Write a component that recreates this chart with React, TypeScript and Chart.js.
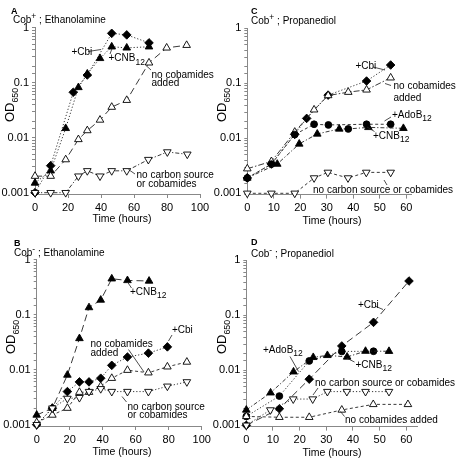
import React, { useEffect, useRef } from 'react';
import { Chart, registerables } from 'chart.js';
Chart.register(...registerables);

const FONT = '"Liberation Sans", Arial, Helvetica, sans-serif';

// ---------- Panel A : Cob+ ; Ethanolamine ----------
const A_cbi_t = [0, 9.5, 23.2, 31.7, 46.5, 55.6, 69.1];
const A_cbi_od = [0.001, 0.0031, 0.067, 0.138, 0.79, 0.74, 0.53];
const A_cnb_t = [0, 9.5, 18.6, 26.3, 31.7, 39.4, 46.5, 55.6, 69.1];
const A_cnb_od = [0.0015, 0.0025, 0.0148, 0.082, 0.145, 0.277, 0.45, 0.43, 0.45];
const A_nocob_t = [0, 9.5, 18.6, 26.3, 31.7, 39.4, 46.5, 55.6, 69.1, 79.8, 91.9];
const A_nocob_od = [0.002, 0.002, 0.004, 0.0093, 0.0135, 0.021, 0.036, 0.048, 0.23, 0.43, 0.48];
const A_nocarb_t = [0, 9.5, 18.6, 26.3, 31.7, 39.4, 46.5, 55.6, 68.7, 80.2, 92.3];
const A_nocarb_od = [0.001, 0.001, 0.001, 0.002, 0.0025, 0.002, 0.0025, 0.0025, 0.004, 0.0055, 0.005];

// ---------- Panel B : Cob- ; Ethanolamine ----------
const B_cnb_t = [0, 9.5, 18.6, 25.9, 31.7, 38.8, 45.5, 55, 68.1];
const B_cnb_od = [0.0015, 0.002, 0.008, 0.037, 0.135, 0.185, 0.45, 0.42, 0.41];
const B_cbi_t = [0, 9.5, 18.6, 25.9, 31.7, 38.8, 45.5, 55, 67.7, 79.2];
const B_cbi_od = [0.001, 0.002, 0.004, 0.006, 0.006, 0.007, 0.012, 0.017, 0.02, 0.026];
const B_nocob_t = [0, 9.5, 18.6, 25.9, 31.7, 38.8, 45.5, 55, 67.7, 79.2, 91];
const B_nocob_od = [0.0011, 0.0015, 0.002, 0.0039, 0.0039, 0.005, 0.007, 0.0098, 0.0088, 0.0113, 0.0138];
const B_nocarb_t = [0, 9.5, 18.6, 25.9, 31.7, 38.8, 45.5, 55, 67.7, 79.2, 91];
const B_nocarb_od = [0.001, 0.002, 0.003, 0.0031, 0.004, 0.0045, 0.004, 0.004, 0.004, 0.005, 0.006];

// ---------- Panel C : Cob+ ; Propanediol ----------
const C_cbi_t = [0, 9.1, 17.9, 22.4, 30.5, 45, 54.1];
const C_cbi_od = [0.0019, 0.0034, 0.0118, 0.023, 0.061, 0.11, 0.215];
const C_nocob_t = [0, 9.1, 17.9, 25.2, 30.5, 38.1, 45, 54.1];
const C_nocob_od = [0.0028, 0.0038, 0.013, 0.033, 0.06, 0.069, 0.076, 0.126];
const C_ado_t = [0, 9.1, 17.9, 25.2, 30.6, 45, 54.1];
const C_ado_od = [0.0019, 0.0034, 0.0117, 0.018, 0.0175, 0.018, 0.018];
const C_cnb_t = [0, 11.3, 19.6, 26.4, 34.7, 38.1, 45.7, 58.9];
const C_cnb_od = [0.0019, 0.0034, 0.0079, 0.012, 0.0148, 0.0148, 0.0158, 0.0152];
const C_nocarb_t = [0, 9.1, 17.9, 25.2, 30.4, 38, 44.9, 54.1];
const C_nocarb_od = [0.001, 0.001, 0.001, 0.0019, 0.0024, 0.0019, 0.0024, 0.0024];

// ---------- Panel D : Cob- ; Propanediol ----------
const D_cbi_t = [0, 12.4, 23.6, 35.8, 47.7, 61];
const D_cbi_od = [0.001, 0.002, 0.0069, 0.0277, 0.0745, 0.42];
const D_ado_t = [0, 12.4, 23.6, 35.8, 47.7];
const D_ado_od = [0.00145, 0.0034, 0.0148, 0.022, 0.0222];
const D_cnb_t = [0, 9.1, 17.7, 25.1, 30.4, 37.8, 44.7, 53.5];
const D_cnb_od = [0.0019, 0.0039, 0.0094, 0.0172, 0.0187, 0.0175, 0.0223, 0.0222];
const D_nocarb_t = [0, 9, 17.6, 24.9, 30.4, 37.7, 44.7, 53.5];
const D_nocarb_od = [0.001, 0.0019, 0.003, 0.003, 0.0041, 0.0041, 0.0041, 0.0041];
const D_nocob_t = [0, 12.4, 23.6, 35.8, 47.6, 60.6];
const D_nocob_od = [0.00145, 0.0014, 0.0014, 0.0019, 0.0024, 0.0024];

const Y_TICKS = [0.001, 0.01, 0.1, 1];

type Marker = 'diamond' | 'triUp' | 'triDown' | 'circle';
type Series = { t: number[]; od: number[]; marker: Marker; open?: boolean; dash: number[]; styles?: (Marker | null)[] };
type Txt = { x: number; y: number; text: string; size?: number; bold?: boolean };
type Panel = {
  left: number; top: number; width: number; height: number;
  area: { l: number; t: number; r: number; b: number };
  xMax: number; xStep: number; yMin: number;
  series: Series[];
  texts: Txt[]; lines: number[][];
  yTitle: [number, number]; xTitle: [number, number];
};

const DOT = [1.2, 2];
const DASHDOT = [4, 2, 1.2, 2];
const LONG = [7, 4];
const SHORT = [3, 2.5];

const panels: Panel[] = [
  {
    left: 0, top: 0, width: 228, height: 232,
    area: { l: 35, t: 27.7, r: 200, b: 194 }, xMax: 100, xStep: 20, yMin: 0.000947,
    series: [
      { t: A_nocarb_t, od: A_nocarb_od, marker: 'triDown', open: true, dash: DASHDOT },
      { t: A_nocob_t, od: A_nocob_od, marker: 'triUp', open: true, dash: LONG },
      { t: A_cnb_t, od: A_cnb_od, marker: 'triUp', dash: DOT },
      { t: A_cbi_t, od: A_cbi_od, marker: 'diamond', dash: DOT },
    ],
    texts: [
      { x: 11, y: 12, text: 'A', size: 9, bold: true },
      { x: 13, y: 20.5, text: 'Cob^{+} ; Ethanolamine' },
      { x: 71.5, y: 52, text: '+Cbi' },
      { x: 108.5, y: 58.5, text: '+CNB_{12}' },
      { x: 151.5, y: 75, text: 'no cobamides' },
      { x: 151.5, y: 83.5, text: 'added' },
      { x: 136.5, y: 175.5, text: 'no carbon source' },
      { x: 136.5, y: 184, text: 'or cobamides' },
    ],
    lines: [[88, 51.5, 101, 49.5], [110, 54, 112, 48.5], [151, 70, 146, 65.5], [135, 174, 128.5, 169.5]],
    yTitle: [10, 105], xTitle: [122, 219.5],
  },
  {
    left: 200, top: 0, width: 256, height: 232,
    area: { l: 47.3, t: 28.3, r: 211.6, b: 194.6 }, xMax: 62, xStep: 10, yMin: 0.000947,
    series: [
      { t: C_nocarb_t, od: C_nocarb_od, marker: 'triDown', open: true, dash: SHORT },
      { t: C_cnb_t, od: C_cnb_od, marker: 'triUp', dash: DASHDOT, styles: [null, null, null, null, null, 'circle', null, null] },
      { t: C_ado_t, od: C_ado_od, marker: 'circle', dash: SHORT },
      { t: C_nocob_t, od: C_nocob_od, marker: 'triUp', open: true, dash: [6, 2, 1.5, 2] },
      { t: C_cbi_t, od: C_cbi_od, marker: 'diamond', dash: DOT },
    ],
    texts: [
      { x: 251, y: 12, text: 'C', size: 9, bold: true },
      { x: 251, y: 21.5, text: 'Cob^{+} ; Propanediol' },
      { x: 355.5, y: 66.5, text: '+Cbi' },
      { x: 393.5, y: 86, text: 'no cobamides' },
      { x: 393.5, y: 98, text: 'added' },
      { x: 392, y: 115, text: '+AdoB_{12}' },
      { x: 373, y: 136, text: '+CNB_{12}' },
      { x: 313, y: 190, text: 'no carbon source or cobamides' },
    ],
    lines: [[373, 67, 385, 70], [391, 85.5, 385, 83.5], [391, 117, 384.5, 121], [374.5, 131.5, 367, 127], [387, 185, 384, 180]],
    yTitle: [222, 105], xTitle: [332, 221],
  },
  {
    left: 0, top: 232, width: 228, height: 232,
    area: { l: 36.7, t: 27.7, r: 201.7, b: 194 }, xMax: 100, xStep: 20, yMin: 0.000947,
    series: [
      { t: B_nocarb_t, od: B_nocarb_od, marker: 'triDown', open: true, dash: DOT },
      { t: B_nocob_t, od: B_nocob_od, marker: 'triUp', open: true, dash: SHORT },
      { t: B_cbi_t, od: B_cbi_od, marker: 'diamond', dash: DOT },
      { t: B_cnb_t, od: B_cnb_od, marker: 'triUp', dash: LONG },
    ],
    texts: [
      { x: 14, y: 243.5, text: 'B', size: 9, bold: true },
      { x: 14, y: 253.5, text: 'Cob^{-} ; Ethanolamine' },
      { x: 130, y: 292, text: '+CNB_{12}' },
      { x: 172, y: 330, text: '+Cbi' },
      { x: 90.5, y: 344.5, text: 'no cobamides' },
      { x: 90.5, y: 353.5, text: 'added' },
      { x: 127.5, y: 407, text: 'no carbon source' },
      { x: 127.5, y: 415.5, text: 'or cobamides' },
    ],
    lines: [[131.5, 288, 127.5, 282], [172, 335, 168.5, 341], [128.5, 349.5, 144, 372], [126.5, 402, 122, 396.5]],
    yTitle: [11, 337], xTitle: [122, 452],
  },
  {
    left: 200, top: 232, width: 256, height: 232,
    area: { l: 46.3, t: 28.3, r: 217, b: 194.6 }, xMax: 64, xStep: 10, yMin: 0.000947,
    series: [
      { t: D_nocob_t, od: D_nocob_od, marker: 'triUp', open: true, dash: SHORT },
      { t: D_nocarb_t, od: D_nocarb_od, marker: 'triDown', open: true, dash: DOT },
      { t: D_cnb_t, od: D_cnb_od, marker: 'triUp', dash: DASHDOT },
      { t: D_ado_t, od: D_ado_od, marker: 'circle', dash: DOT },
      { t: D_cbi_t, od: D_cbi_od, marker: 'diamond', dash: LONG },
    ],
    texts: [
      { x: 251, y: 242.5, text: 'D', size: 9, bold: true },
      { x: 251, y: 254.5, text: 'Cob^{-} ; Propanediol' },
      { x: 358, y: 305, text: '+Cbi' },
      { x: 263, y: 350, text: '+AdoB_{12}' },
      { x: 355.5, y: 365, text: '+CNB_{12}' },
      { x: 315, y: 383.5, text: 'no carbon source or cobamides' },
      { x: 345, y: 420, text: 'no cobamides added' },
    ],
    lines: [[375, 306, 383, 309.5], [290, 356.5, 298.5, 371.5], [354.5, 362, 346.5, 358], [318, 388, 313, 395], [344.5, 416.5, 340.5, 411.5]],
    yTitle: [222, 337], xTitle: [332, 453],
  },
];

type Seg = { t: string; mode: 'n' | 'sub' | 'sup' };
function parse(s: string): Seg[] {
  const out: Seg[] = [];
  const re = /([_^])\{([^}]*)\}/g;
  let last = 0;
  let m: RegExpExecArray | null;
  while ((m = re.exec(s))) {
    if (m.index > last) out.push({ t: s.slice(last, m.index), mode: 'n' });
    out.push({ t: m[2], mode: m[1] === '_' ? 'sub' : 'sup' });
    last = re.lastIndex;
  }
  if (last < s.length) out.push({ t: s.slice(last), mode: 'n' });
  return out;
}

function drawRich(ctx: CanvasRenderingContext2D, s: string, x: number, y: number, size: number, bold: boolean, center: boolean, subScale = 0.85) {
  const segs = parse(s);
  const fontFor = (mode: string) => `${bold ? 'bold ' : ''}${mode === 'n' ? size : size * subScale}px ${FONT}`;
  let total = 0;
  for (const sg of segs) { ctx.font = fontFor(sg.mode); total += ctx.measureText(sg.t).width; }
  let cx = center ? x - total / 2 : x;
  ctx.textBaseline = 'middle';
  ctx.textAlign = 'left';
  ctx.fillStyle = '#000';
  for (const sg of segs) {
    ctx.font = fontFor(sg.mode);
    const dy = sg.mode === 'sub' ? size * 0.4 : sg.mode === 'sup' ? -size * 0.35 : 0;
    ctx.fillText(sg.t, cx, y + dy);
    cx += ctx.measureText(sg.t).width;
  }
}

function pointStyleOf(m: Marker) {
  return m === 'diamond' ? 'rectRot' : m === 'circle' ? 'circle' : 'triangle';
}
function radiusOf(m: Marker) {
  return m === 'diamond' ? 4.3 : m === 'circle' ? 3.4 : 4.4;
}

function fmt(v: number) {
  const l = Math.log10(v);
  if (Math.abs(l - Math.round(l)) > 1e-6) return '';
  const r = Math.pow(10, Math.round(l));
  return Y_TICKS.includes(r) ? String(r) : '';
}

function PanelChart({ p }: { p: Panel }) {
  const ref = useRef<HTMLCanvasElement>(null);
  useEffect(() => {
    if (!ref.current) return;
    const datasets = p.series.map((s) => {
      const styles = s.t.map((_, i) => pointStyleOf((s.styles && s.styles[i]) || s.marker));
      const radii = s.t.map((_, i) => radiusOf((s.styles && s.styles[i]) || s.marker));
      return {
        data: s.t.map((x, i) => ({ x, y: s.od[i] })),
        showLine: true,
        borderColor: '#222',
        borderWidth: 0.9,
        borderDash: s.dash,
        pointStyle: styles,
        pointRadius: radii,
        pointRotation: s.marker === 'triDown' ? 180 : 0,
        pointBackgroundColor: s.open ? '#fff' : '#000',
        pointBorderColor: '#000',
        pointBorderWidth: 0.9,
        clip: false as any,
      };
    });
    const decor = {
      id: 'decor',
      afterDraw(chart: any) {
        const ctx: CanvasRenderingContext2D = chart.ctx;
        ctx.save();
        ctx.translate(-p.left, -p.top);
        ctx.strokeStyle = '#222';
        ctx.lineWidth = 0.8;
        ctx.setLineDash([]);
        for (const l of p.lines) {
          ctx.beginPath(); ctx.moveTo(l[0], l[1]); ctx.lineTo(l[2], l[3]); ctx.stroke();
        }
        for (const t of p.texts) drawRich(ctx, t.text, t.x, t.y, t.size || 10, !!t.bold, false);
        drawRich(ctx, 'Time (hours)', p.xTitle[0], p.xTitle[1], 10.5, false, true);
        ctx.save();
        ctx.translate(p.yTitle[0], p.yTitle[1]);
        ctx.rotate(-Math.PI / 2);
        drawRich(ctx, 'OD_{650}', 0, 0, 13, false, true, 0.68);
        ctx.restore();
        ctx.restore();
      },
    };
    const a = p.area;
    const chart = new Chart(ref.current, {
      type: 'scatter',
      data: { datasets: datasets as any },
      options: {
        animation: false,
        responsive: false,
        devicePixelRatio: 1,
        layout: { padding: { left: 0, top: a.t, right: p.width - a.r, bottom: 0 } },
        plugins: { legend: { display: false }, tooltip: { enabled: false } },
        scales: {
          x: {
            type: 'linear', min: 0, max: p.xMax,
            ticks: { stepSize: p.xStep, includeBounds: false, maxRotation: 0, autoSkip: false, padding: 3, color: '#000', font: { family: FONT, size: 11 } },
            grid: { display: true, drawOnChartArea: false, tickLength: 4, color: '#888' },
            border: { display: true, color: '#888', width: 1 },
            afterFit: (s: any) => { s.height = p.height - a.b; },
          },
          y: {
            type: 'logarithmic', min: p.yMin, max: 1,
            ticks: { autoSkip: false, padding: 3, color: '#000', font: { family: FONT, size: 11 }, callback: (v: any) => fmt(Number(v)) },
            grid: { display: true, drawOnChartArea: false, tickLength: 3, color: '#888' },
            border: { display: true, color: '#888', width: 1 },
            afterFit: (s: any) => { s.width = a.l; },
          },
        },
      } as any,
      plugins: [decor],
    });
    return () => chart.destroy();
  }, [p]);
  return (
    <canvas
      ref={ref}
      width={p.width}
      height={p.height}
      style={{ position: 'absolute', left: p.left, top: p.top, width: p.width, height: p.height }}
    />
  );
}

export default function App() {
  return (
    <div style={{ position: 'absolute', left: 0, top: 0, width: 456, height: 464, background: '#fff' }}>
      {panels.map((p, i) => <PanelChart key={i} p={p} />)}
    </div>
  );
}
